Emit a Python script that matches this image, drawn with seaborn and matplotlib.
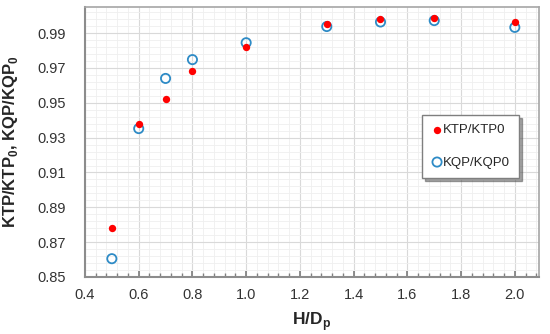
import matplotlib
matplotlib.use("Agg")
import matplotlib.pyplot as plt
import seaborn as sns
import pandas as pd
from matplotlib.ticker import MultipleLocator, FormatStrFormatter

h_dp = [0.5, 0.6, 0.7, 0.8, 1.0, 1.3, 1.5, 1.7, 2.0]
ktp = [0.878, 0.938, 0.952, 0.968, 0.982, 0.9952, 0.9983, 0.9987, 0.9962]
kqp = [0.8605, 0.9352, 0.964, 0.9748, 0.9845, 0.9938, 0.9964, 0.9972, 0.9933]
series_names = ["KTP/KTP0", "KQP/KQP0"]

sns.set_theme(style="white")
plt.rcParams['font.family'] = ['Liberation Sans', 'DejaVu Sans']

df = pd.DataFrame({"x": h_dp * 2, "y": ktp + kqp,
                   "s": [series_names[0]] * len(h_dp) + [series_names[1]] * len(h_dp)})

fig = plt.figure(figsize=(5.5, 3.34), dpi=100)
ax = fig.add_axes([0.1545, 0.1707, 0.8255, 0.8083])

ax.set_xlim(0.4, 2.09)
ax.set_ylim(0.85, 1.005)
ax.xaxis.set_major_locator(MultipleLocator(0.2))
ax.xaxis.set_minor_locator(MultipleLocator(0.04))
ax.yaxis.set_major_locator(MultipleLocator(0.02, offset=0.01))
ax.yaxis.set_minor_locator(MultipleLocator(0.004, offset=0.002))
ax.grid(which="major", color="#d9d9d9", linewidth=0.8)
ax.grid(which="minor", color="#efefef", linewidth=0.6)
ax.set_axisbelow(True)

d1 = df[df.s == series_names[0]]
d2 = df[df.s == series_names[1]]
sns.scatterplot(data=d1, x="x", y="y", ax=ax, color="#ff0000", s=28,
                edgecolor="#ff0000", linewidth=0, label=series_names[0], zorder=3)
sns.scatterplot(data=d2, x="x", y="y", ax=ax, facecolor="none", s=44,
                edgecolor="#2e8bc6", linewidth=1.3, label=series_names[1], zorder=2)

ax.xaxis.set_major_formatter(FormatStrFormatter('%.1f'))
ax.yaxis.set_major_formatter(FormatStrFormatter('%.2f'))
ax.tick_params(axis="x", which="both", direction="in", bottom=True, length=3,
               color="#808080", labelsize=10.5, pad=8, labelcolor="#333333")
ax.tick_params(axis="x", which="major", length=4)
ax.tick_params(axis="y", which="both", left=False, labelsize=10.5, pad=8, labelcolor="#333333")

for sp in ax.spines.values():
    sp.set_color("#a6a6a6")
    sp.set_linewidth(1.2)
ax.spines["left"].set_color("#8c8c8c")
ax.spines["bottom"].set_color("#8c8c8c")
ax.spines["left"].set_linewidth(1.5)
ax.spines["bottom"].set_linewidth(1.5)

ax.set_xlabel(r"H/D$_\mathregular{p}$", fontsize=12.5, fontweight="bold", labelpad=6)
ax.set_ylabel(r"KTP/KTP$_\mathregular{0}$, KQP/KQP$_\mathregular{0}$", fontsize=12,
              fontweight="bold", labelpad=12)

leg = ax.legend(loc="upper left", bbox_to_anchor=(0.742, 0.60), frameon=True,
                fancybox=False, shadow=True, fontsize=9.5, handletextpad=0.0,
                labelspacing=1.5, borderpad=0.7, handlelength=0.9, borderaxespad=0)
leg.get_frame().set_edgecolor("#7f7f7f")
leg.get_frame().set_linewidth(1.0)

fig.savefig("out.png", dpi=100)
